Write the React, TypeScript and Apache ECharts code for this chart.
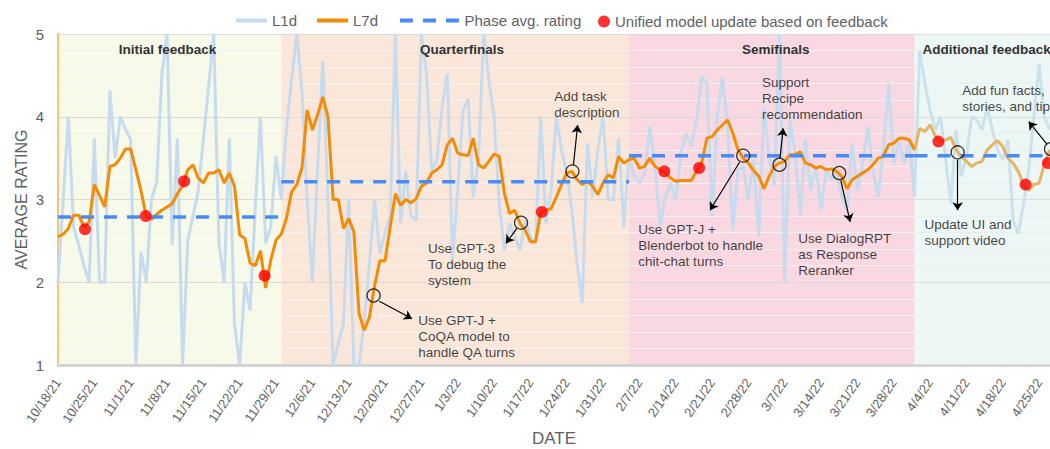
import { useEffect, useRef } from 'react';
import * as echarts from 'echarts';

const FONT = "'Liberation Sans', Arial, Helvetica, sans-serif";

// x axis: day index, 0 = 10/18/21
const tickLabels = [
  '10/18/21', '10/25/21', '11/1/21', '11/8/21', '11/15/21', '11/22/21', '11/29/21',
  '12/6/21', '12/13/21', '12/20/21', '12/27/21', '1/3/22', '1/10/22', '1/17/22',
  '1/24/22', '1/31/22', '2/7/22', '2/14/22', '2/21/22', '2/28/22', '3/7/22',
  '3/14/22', '3/21/22', '3/28/22', '4/4/22', '4/11/22', '4/18/22', '4/25/22',
];

const l1d = [
  2.0, 3.0, 4.0, 2.67, 2.45, 2.2, 2.0, 3.74, 2.0, 2.0,
  4.32, 3.5, 4.0, 3.85, 3.72, 1.0, 2.37, 2.0, 3.0, 3.2,
  4.5, 5.0, 2.45, 3.74, 1.0, 2.5, 2.8, 3.1, 3.72, 4.36,
  5.0, 2.47, 2.0, 3.74, 1.5, 1.0, 2.0, 1.66, 2.9, 4.0,
  2.47, 2.67, 3.52, 3.0, 3.84, 4.45, 5.0, 4.3, 3.0, 2.0,
  3.36, 4.67, 3.0, 1.0, 1.26, 1.5, 3.0, 1.0, 1.0, 1.54,
  2.23, 3.0, 2.35, 2.6, 2.8, 5.0, 2.71, 3.34, 2.8, 2.75,
  5.0, 4.52, 3.34, 3.48, 4.12, 4.52, 2.27, 3.11, 4.06, 4.22,
  3.03, 3.48, 5.0, 4.44, 4.0, 2.95, 2.39, 2.71, 2.55, 2.39,
  2.75, 2.55, 2.47, 4.0, 2.71, 3.11, 4.0, 3.6, 3.32, 2.87,
  2.23, 1.75, 3.68, 3.03, 3.6, 4.0, 3.0, 3.0, 3.74, 2.67,
  3.52, 3.28, 3.2, 3.32, 3.88, 3.4, 2.67, 3.03, 3.2, 3.0,
  3.56, 3.8, 3.64, 3.96, 4.48, 4.4, 2.8, 4.0, 4.48, 3.88,
  2.63, 3.36, 3.4, 3.0, 3.48, 2.55, 4.12, 3.5, 3.16, 5.0,
  1.99, 3.96, 3.56, 2.8, 3.72, 3.11, 3.4, 2.87, 3.36, 3.24,
  3.32, 3.03, 2.87, 3.68, 3.11, 3.44, 3.88, 3.36, 3.03, 3.6,
  4.4, 3.44, 3.72, 3.44, 3.72, 3.03, 4.8, 4.4, 4.08, 3.84,
  4.0, 3.48, 2.95, 3.84, 3.28, 3.52, 4.0, 3.96, 3.84, 4.12,
  3.84, 3.6, 3.48, 3.72, 2.75, 2.59, 2.95, 3.36, 4.0, 4.64,
  4.0, 3.84,
];

const l7d = [
  2.55, 2.58, 2.65, 2.81, 2.81, 2.67, 2.73, 3.18, 3.05, 2.91,
  3.4, 3.42, 3.5, 3.61, 3.61, 3.36, 3.1, 2.8, 2.76, 2.82,
  2.87, 2.91, 2.95, 3.07, 3.16, 3.36, 3.42, 3.26, 3.2, 3.32,
  3.32, 3.36, 3.2, 3.32, 3.16, 2.57, 2.53, 2.23, 2.2, 2.38,
  1.93, 2.27, 2.51, 2.58, 2.77, 3.09, 3.18, 3.38, 4.08, 3.84,
  4.02, 4.24, 4.0, 3.0, 3.0, 2.65, 2.77, 2.61, 1.62, 1.42,
  1.58, 1.96, 2.26, 2.26, 2.67, 3.07, 2.93, 3.0, 2.96, 3.01,
  3.16, 3.2, 3.32, 3.36, 3.42, 3.66, 3.74, 3.56, 3.54, 3.53,
  3.74, 3.42, 3.38, 3.46, 3.55, 3.52, 3.07, 2.83, 2.87, 2.71,
  2.63, 2.49, 2.49, 2.85, 2.87, 2.89, 3.03, 3.18, 3.32, 3.34,
  3.24, 3.18, 3.22, 3.16, 3.06, 3.2, 3.3, 3.26, 3.52, 3.44,
  3.48, 3.5, 3.38, 3.4, 3.5, 3.4, 3.36, 3.32, 3.26, 3.22,
  3.23, 3.23, 3.23, 3.34, 3.44, 3.74, 3.76, 3.84, 3.9, 3.96,
  3.8, 3.6, 3.5, 3.44, 3.35, 3.28, 3.13, 3.28, 3.4, 3.44,
  3.46, 3.54, 3.54, 3.58, 3.44, 3.42, 3.38, 3.4, 3.36, 3.37,
  3.34, 3.28, 3.13, 3.24, 3.28, 3.32, 3.36, 3.42, 3.5, 3.52,
  3.66, 3.68, 3.74, 3.74, 3.72, 3.6, 3.86, 3.82, 3.9, 3.77,
  3.7, 3.72, 3.75, 3.6, 3.52, 3.46, 3.4, 3.44, 3.46, 3.6,
  3.66, 3.71, 3.64, 3.5, 3.44, 3.34, 3.18, 3.11, 3.18, 3.2,
  3.42, 3.6,
];

const phaseNames = ['Initial feedback', 'Quarterfinals', 'Semifinals', 'Additional feedback'];
const phaseStart = [0, 43, 110, 165];
const phaseEnd = [43, 110, 165, 191.1];
const phaseAvg = [2.79, 3.215, 3.53, 3.53];

const updateDays = [5.2, 16.9, 24.3, 39.8, 93.2, 116.8, 123.5, 169.6, 186.4, 190.7];
const updateValues = [2.64, 2.8, 3.22, 2.08, 2.85, 3.34, 3.38, 3.7, 3.18, 3.44];

const noteTexts = [
  'Use GPT-J +\nCoQA model to\nhandle QA turns',
  'Use GPT-3\nTo debug the\nsystem',
  'Add task\ndescription',
  'Use GPT-J +\nBlenderbot to handle\nchit-chat turns',
  'Support\nRecipe\nrecommendation',
  'Use DialogRPT\nas Response\nReranker',
  'Update UI and\nsupport video',
  'Add fun facts,\nstories, and tips',
];
const noteCircle = [
  [60.8, 1.84], [89.2, 2.72], [99.1, 3.34], [132.0, 3.53],
  [139.0, 3.42], [150.5, 3.32], [173.3, 3.57], [191.3, 3.61],
];
const noteArrowFrom = [
  [61.9, 1.77], [88.4, 2.65], [99.3, 3.42], [131.3, 3.45],
  [139.1, 3.5], [150.8, 3.23], [173.3, 3.48], [190.5, 3.67],
];
const noteArrowTo = [
  [68.2, 1.56], [86.3, 2.47], [100.1, 3.9], [125.6, 2.87],
  [139.7, 3.86], [152.6, 2.73], [173.3, 2.87], [187.0, 3.94],
];
const noteTextAt = [
  [69.4, 1.64], [71.3, 2.5], [95.6, 4.34], [111.8, 2.74],
  [135.6, 4.51], [142.6, 2.63], [166.9, 2.8], [174.2, 4.41],
];

const bandColors = ['#f7f9e9', '#fbe7da', '#f9d8e1'];
const bandLabelOffset = [-2, 7, 4, 0];

const legendText = { fontSize: 15, color: '#5f5f5f', fontFamily: FONT };
const DASH_ICON = 'path://M0,0h13v4h-13z M23,0h13v4h-13z M46,0h13v4h-13z';

function buildOption() {
  const baseBands = [0, 1, 2].map((i) => [
    { xAxis: phaseStart[i], itemStyle: { color: bandColors[i] } },
    { xAxis: phaseEnd[i] },
  ]);

  const labelAreas = phaseNames.map((n, i) => [
    {
      name: n,
      xAxis: phaseStart[i],
      label:
        i < 3
          ? { position: 'insideTop', offset: [bandLabelOffset[i], 0] }
          : { position: 'insideTopLeft' },
    },
    { xAxis: phaseEnd[i] },
  ]);

  const phaseSeries: any[] = phaseAvg.map((v, i) => ({
    type: 'line',
    name: 'Phase avg. rating',
    data: [[phaseStart[i], v], [phaseEnd[i], v]],
    symbol: 'none',
    z: 4,
    lineStyle: { color: '#4a8af4', width: 3.5, type: [13, 10] },
    itemStyle: { color: '#4a8af4' },
    silent: true,
  }));
  phaseSeries[0].markArea = {
    silent: true,
    z: 4,
    itemStyle: { color: 'rgba(0,0,0,0)' },
    label: {
      show: true,
      distance: 8,
      fontWeight: 'bold',
      fontSize: 13.5,
      color: '#333333',
      fontFamily: FONT,
    },
    data: labelAreas,
  };

  return {
    animation: false,
    backgroundColor: '#ffffff',
    textStyle: { fontFamily: FONT },
    grid: { left: 58, right: 0, top: 34, bottom: 84, outerBoundsMode: 'none', containLabel: false },
    legend: [
      {
        left: 231, top: 8, itemWidth: 31, itemHeight: 4, itemGap: 20,
        selectedMode: false, textStyle: legendText,
        data: [{ name: 'L1d', icon: 'rect' }, { name: 'L7d', icon: 'rect' }],
      },
      {
        left: 395, top: 8, itemWidth: 60, itemHeight: 4,
        selectedMode: false, textStyle: legendText,
        data: [{ name: 'Phase avg. rating', icon: DASH_ICON }],
      },
      {
        left: 593, top: 9, itemWidth: 12, itemHeight: 12,
        selectedMode: false, textStyle: legendText,
        data: [{ name: 'Unified model update based on feedback', icon: 'circle' }],
      },
    ],
    xAxis: {
      type: 'value',
      min: 0,
      max: 191.1,
      interval: 7,
      z: 1.5,
      axisLine: { show: true, lineStyle: { color: '#d4d4d4', width: 3 } },
      axisTick: { show: false },
      splitLine: { show: false },
      axisLabel: {
        rotate: 55,
        fontSize: 13,
        color: '#5f5f5f',
        margin: 15,
        showMaxLabel: false,
        formatter: (v: number) => {
          const k = Math.round(v / 7);
          if (Math.abs(v / 7 - k) > 1e-6) return '';
          return tickLabels[k] ?? '';
        },
      },
      name: 'DATE',
      nameLocation: 'middle',
      nameGap: 65,
      nameMoveOverlap: false,
      nameTextStyle: { fontSize: 17, color: '#5f5f5f' },
    },
    yAxis: {
      type: 'value',
      min: 1,
      max: 5,
      interval: 1,
      z: 1.5,
      axisLine: { show: true, lineStyle: { color: '#f8c47c', width: 2 } },
      axisTick: { show: false },
      axisLabel: { fontSize: 15, color: '#5f5f5f', margin: 14 },
      splitLine: { show: true, lineStyle: { color: '#d9d9d9', width: 1 } },
      minorTick: { show: false, splitNumber: 5 },
      minorSplitLine: { show: true, lineStyle: { color: '#f3f3f3', width: 1 } },
      name: 'AVERAGE RATING',
      nameLocation: 'middle',
      nameGap: 29,
      nameMoveOverlap: false,
      nameTextStyle: { fontSize: 16, color: '#5f5f5f' },
    },
    series: [
      {
        type: 'line',
        name: 'L1d',
        data: l1d.map((v, i) => [i, v]),
        symbol: 'none',
        z: 2,
        silent: true,
        lineStyle: { color: '#c7dbee', width: 3 },
        itemStyle: { color: '#c7dbee' },
        markArea: {
          silent: true,
          z: 1,
          label: { show: false },
          data: baseBands,
        },
      },
      {
        type: 'line',
        name: 'L7d',
        data: l7d.map((v, i) => [i, v]),
        symbol: 'none',
        z: 2.1,
        silent: true,
        lineStyle: { color: '#f28c06', width: 3 },
        itemStyle: { color: '#f28c06' },
        markArea: {
          silent: true,
          z: 3,
          itemStyle: { color: 'rgba(213,235,230,0.42)' },
          label: { show: false },
          data: [[{ xAxis: phaseStart[3] }, { xAxis: phaseEnd[3] }]],
        },
      },
      ...phaseSeries,
      {
        type: 'scatter',
        name: 'Unified model update based on feedback',
        data: updateDays.map((d, i) => [d, updateValues[i]]),
        symbol: 'circle',
        symbolSize: 12,
        z: 5,
        clip: false,
        silent: true,
        itemStyle: { color: '#ff0000' },
      },
      {
        type: 'scatter',
        name: '_circles',
        data: noteCircle,
        symbol: 'circle',
        symbolSize: 13,
        z: 6,
        clip: false,
        silent: true,
        itemStyle: { color: 'rgba(0,0,0,0)', borderColor: '#000000', borderWidth: 1.3 },
        markLine: {
          silent: true,
          z: 6,
          symbol: ['none', 'arrow'],
          symbolSize: 8,
          label: { show: false },
          lineStyle: { color: '#000000', width: 1.2, type: 'solid' },
          data: noteArrowFrom.map((f, i) => [{ coord: f }, { coord: noteArrowTo[i] }]),
        },
      },
      {
        type: 'scatter',
        name: '_texts',
        data: noteTextAt.map((p, i) => ({ value: p, name: noteTexts[i] })),
        symbol: 'circle',
        symbolSize: 1,
        z: 6,
        clip: false,
        silent: true,
        itemStyle: { color: 'rgba(0,0,0,0)' },
        label: {
          show: true,
          position: 'inside',
          align: 'left',
          verticalAlign: 'top',
          formatter: '{b}',
          fontSize: 13.5,
          lineHeight: 16,
          color: '#111111',
          textBorderWidth: 0,
          fontFamily: FONT,
        },
      },
    ],
  };
}

export default function App() {
  const ref = useRef<HTMLDivElement>(null);
  useEffect(() => {
    if (!ref.current) return;
    const chart = echarts.init(ref.current, undefined, { renderer: 'svg' });
    chart.setOption(buildOption() as any);
    return () => chart.dispose();
  }, []);
  return (
    <div
      ref={ref}
      style={{ position: 'absolute', left: 0, top: 0, width: 1050, height: 449 }}
    />
  );
}
